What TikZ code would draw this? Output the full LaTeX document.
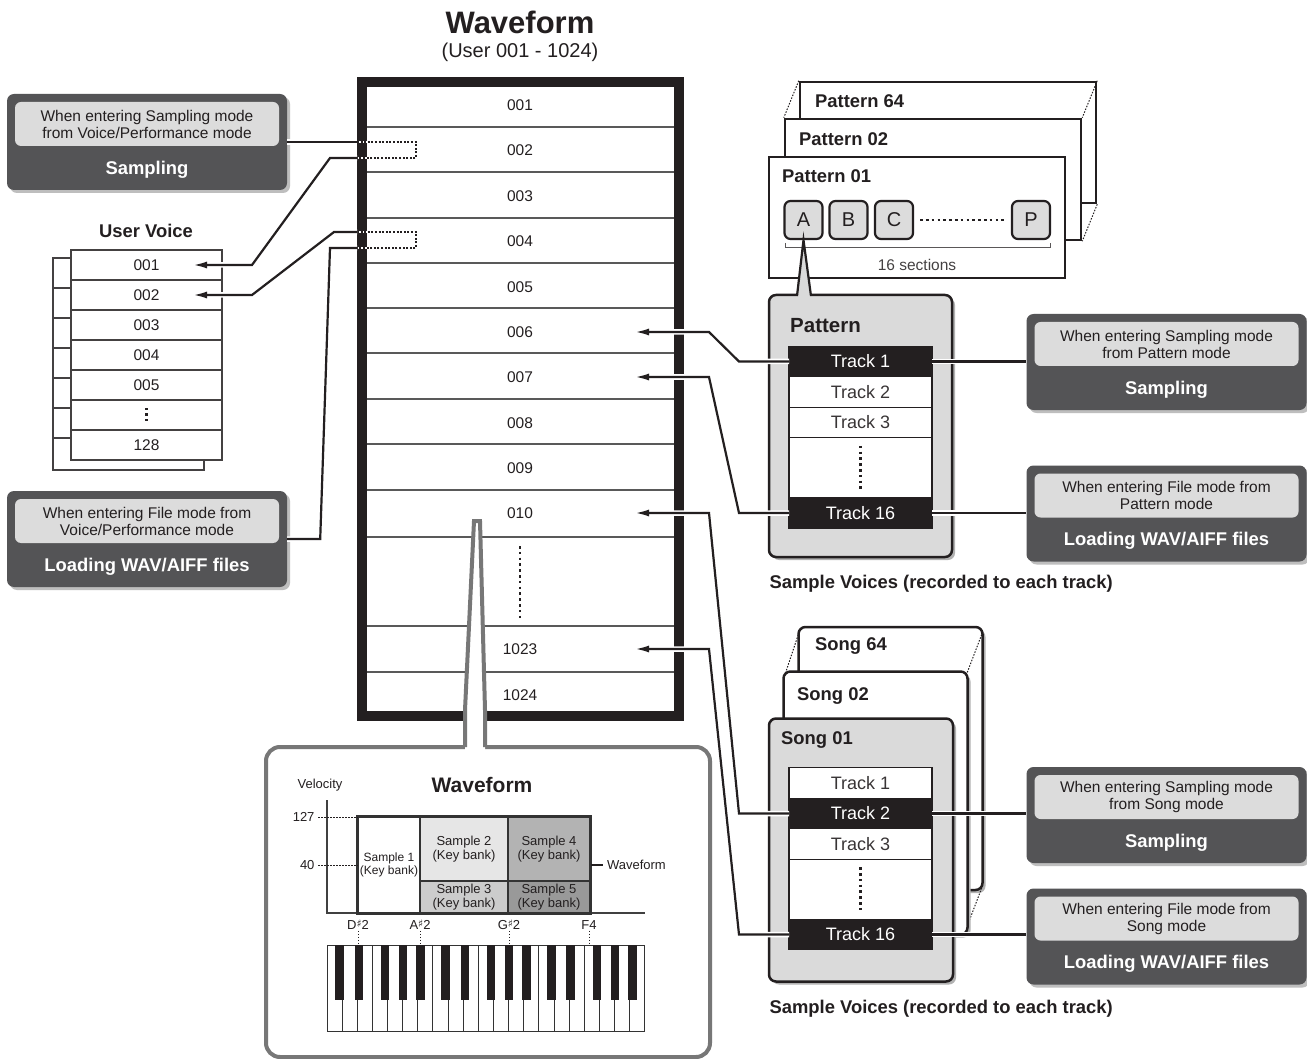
\documentclass[tikz,border=0pt]{standalone}
\usepackage{fontspec}
\setmainfont{Liberation Sans}
\newfontfamily\symfont{DejaVu Sans}
\usepackage{tikz}
\usetikzlibrary{arrows.meta,positioning,shadows}
\definecolor{boxdark}{HTML}{545456}
\definecolor{notegray}{HTML}{DCDCDC}
\definecolor{panelgray}{HTML}{DADADA}
\definecolor{textdark}{HTML}{231F20}
\definecolor{insetgray}{HTML}{777777}
\definecolor{shadowgray}{HTML}{BEBEBE}
\definecolor{cellA}{HTML}{E6E6E6}
\definecolor{cellB}{HTML}{CCCCCC}
\definecolor{cellC}{HTML}{B3B3B3}
\definecolor{cellD}{HTML}{999999}
\newcommand{\fs}[2]{\fontsize{#1}{#2}\selectfont}
\newcommand{\shp}{\raisebox{0.25ex}{\symfont\fs{10.5}{10.5}♯}}
% mode box: name, centre, note, title
\newcommand{\modebox}[4]{%
  \node[modebox] (#1) at (#2) {};
  \node[modenote] (#1n) at ([yshift=18pt]#1.center) {#3};
  \node[modename] (#1t) at ([yshift=-27.5pt]#1.center) {#4};
}
\tikzset{
  modebox/.style={fill=boxdark, rounded corners=7pt, minimum width=280pt, minimum height=96pt, inner sep=0pt,
    drop shadow={shadow xshift=3pt, shadow yshift=-3pt, fill=shadowgray, opacity=1}},
  modenote/.style={fill=notegray, rounded corners=6pt, minimum width=264pt, minimum height=44pt, inner sep=0pt,
    align=center, text=textdark, font=\fs{15.5}{17}},
  modename/.style={text=white, font=\fs{18.4}{20}\bfseries},
  heading/.style={text=textdark, font=\fs{18.4}{20}\bfseries},
  wframe/.style={draw=textdark, line width=10pt, minimum width=317pt, minimum height=634pt, inner sep=0pt},
  wrow/.style={text=textdark, font=\fs{15.5}{17}},
  rowline/.style={line width=1.2pt, black!65},
  marker/.style={line width=2pt, textdark, dash pattern=on 2pt off 1.6pt},
  conn/.style={line width=2.2pt, draw=textdark, -{Latex[length=14pt,width=7pt]}, preaction={draw=white, line width=5.5pt, -}},
  plain/.style={line width=2.2pt, draw=textdark, preaction={draw=white, line width=5.5pt}},
  dotv/.style={line width=2.6pt, textdark, dash pattern=on 2.6pt off 3.2pt},
  dotthin/.style={line width=1pt, textdark, dash pattern=on 1.5pt off 1.5pt},
  uvrow/.style={draw=textdark!85, fill=white, line width=1.2pt, minimum width=151pt, minimum height=30pt, inner sep=0pt, outer sep=0pt,
    text=textdark, font=\fs{15.5}{17}},
  pstack/.style={draw=textdark, fill=white, line width=2.5pt, minimum width=296pt, minimum height=121pt, inner sep=0pt},
  sstack/.style={draw=textdark, fill=white, line width=2.5pt, rounded corners=7pt, minimum width=184pt, minimum height=263pt, inner sep=0pt,
    drop shadow={shadow xshift=3pt, shadow yshift=-3pt, fill=black!30, opacity=1}},
  panel/.style={sstack, fill=panelgray},
  ptitle/.style={heading, anchor=west, inner sep=0pt},
  secbtn/.style={draw=textdark, fill=notegray, line width=2.2pt, rounded corners=6pt, minimum width=38pt, minimum height=38pt,
    inner sep=0pt, text=textdark, font=\fs{20}{22}},
  trk/.style={draw=textdark, line width=1.2pt, minimum width=143pt, minimum height=30.5pt, inner sep=0pt, outer sep=0pt, font=\fs{18}{20}},
  trkon/.style={trk, fill=textdark, text=white},
  trkoff/.style={trk, fill=white, text=textdark!90},
  cell/.style={draw=black!80, line width=1.4pt, inner sep=0pt, align=center, text=textdark, font=\fs{13}{13.5}},
  small/.style={text=textdark, font=\fs{13}{15}},
  keyw/.style={draw=black!80, fill=white, line width=1pt}
}
\begin{document}
\begin{tikzpicture}[x=1pt,y=-1pt]
\useasboundingbox (0,0) rectangle (1307,1059);
\fill[white] (0,0) rectangle (1307,1059);

% heading
\node[heading, font=\fs{31}{34}\bfseries] (wtitle) at (520,22) {Waveform};
\node[wrow, font=\fs{20}{22}] (wsub) at (520,52) {(User 001 - 1024)};

% waveform column
\node[wframe] (wcol) at (520.5,399) {};
\foreach \y in {127,172,218,263,308,353,399,444,490,537,626,672}
  \draw[rowline] (367,\y) -- (674,\y);
\foreach \n/\y in {001/105,002/150,003/196,004/241,005/287,006/332,007/377,008/423,009/468,010/513,1023/649,1024/695}
  \node[wrow] (w\n) at (520,\y) {\n};
\draw[dotv] (520,546) -- (520,618);

% row markers
\foreach \t/\b in {142/158,232/248}{
  \draw[white, line width=2.6pt] (356,\t) -- (368,\t) (356,\b) -- (368,\b);
  \draw[marker] (357,\t) -- (416,\t) -- (416,\b) -- (357,\b);
}
\coordinate (m2t) at (357,142);
\coordinate (m2b) at (357,158);
\coordinate (m4t) at (357,232);
\coordinate (m4b) at (357,248);

% mode boxes
\modebox{sampL}{147,142}{When entering Sampling mode\\from Voice/Performance mode}{Sampling}
\modebox{loadL}{147,539}{When entering File mode from\\Voice/Performance mode}{Loading WAV/AIFF files}
\modebox{sampP}{1166.5,362}{When entering Sampling mode\\from Pattern mode}{Sampling}
\modebox{loadP}{1166.5,513.5}{When entering File mode from\\Pattern mode}{Loading WAV/AIFF files}
\modebox{sampS}{1166.5,815}{When entering Sampling mode\\from Song mode}{Sampling}
\modebox{loadS}{1166.5,936.5}{When entering File mode from\\Song mode}{Loading WAV/AIFF files}

% user voice
\node[heading] (uvtitle) at (146,231) {User Voice};
\draw[line width=1.2pt, textdark!85, fill=white] (53,258) rectangle (204,470);
\foreach \y in {288,318,...,438}
  \draw[line width=1.2pt, textdark!85] (53,\y) -- (71,\y);
\node[uvrow] (uv1) at (146.5,265) {001};
\node[uvrow, below=0pt of uv1] (uv2) {002};
\node[uvrow, below=0pt of uv2] (uv3) {003};
\node[uvrow, below=0pt of uv3] (uv4) {004};
\node[uvrow, below=0pt of uv4] (uv5) {005};
\node[uvrow, below=0pt of uv5] (uv6) {};
\node[uvrow, below=0pt of uv6] (uv7) {128};
\draw[dotv, line width=2.4pt, dash pattern=on 2.4pt off 3pt] ([yshift=7pt]uv6.center) -- ([yshift=-7pt]uv6.center);

% pattern stack
\node[pstack] (pat64) at (948,142.5) {};
\draw[dotthin] (pat64.north west) -- ++(-15,37);
\draw[dotthin] (pat64.north east) -- ++(-15,37);
\draw[dotthin] (pat64.south east) -- ++(-15,37);
\node[pstack] (pat02) at (933,179.5) {};
\node[pstack] (pat01) at (917,217.5) {};
\node[ptitle] (pat64t) at (815,101) {Pattern 64};
\node[ptitle] (pat02t) at (799,139) {Pattern 02};
\node[ptitle] (pat01t) at (782,176) {Pattern 01};
\draw[line width=1pt, textdark!75] (785,243) -- (785,248) -- (1050,248) -- (1050,243);
\node[wrow, text=textdark!85] (secs) at (917,265) {16 sections};
\foreach \l/\x in {A/803.5,B/848.5,C/894,P/1031}
  \node[secbtn] (btn\l) at (\x,220) {\l};
\draw[dotv] ([xshift=6pt]btnC.east) -- ([xshift=-6pt]btnP.west);

% pattern panel
\node[panel, minimum width=183pt, minimum height=262pt] (patbox) at (860.5,426) {};
\fill[panelgray] (797,299) -- (btnA.south) -- (811,299) -- cycle;
\draw[line width=2.2pt, textdark] (797,296) -- (btnA.south) -- (811,296);
\node[ptitle, font=\fs{20.5}{22}\bfseries] (patname) at (790,326) {Pattern};
\node[trkon] (pt1) at (860.5,361.5) {Track 1};
\node[trkoff, below=0pt of pt1] (pt2) {Track 2};
\node[trkoff, below=0pt of pt2] (pt3) {Track 3};
\node[trkoff, below=0pt of pt3, minimum height=60pt] (ptd) {};
\node[trkon, below=0pt of ptd] (pt16) {Track 16};
\draw[dotv] ([yshift=22pt]ptd.center) -- ([yshift=-22pt]ptd.center);
\node[heading, anchor=west] (svp) at (766,584) {Sample Voices (recorded to each track)};

% song stack
\node[sstack] (s64) at (890.5,758.5) {};
\draw[dotthin] ([shift={(1pt,-9pt)}]s64.north west) -- ++(-14,42);
\draw[dotthin] ([shift={(-1pt,-6pt)}]s64.north east) -- ++(-16,42);
\draw[dotthin] ([shift={(-1pt,6pt)}]s64.south east) -- ++(-16,42);
\node[sstack] (s02) at (875.5,803) {};
\node[panel] (s01) at (861,850) {};
\node[ptitle] (s64t) at (815,646) {Song 64};
\node[ptitle] (s02t) at (797,696) {Song 02};
\node[ptitle] (s01t) at (781,740) {Song 01};
\node[trkoff] (st1) at (860.5,783) {Track 1};
\node[trkon, below=0pt of st1] (st2) {Track 2};
\node[trkoff, below=0pt of st2] (st3) {Track 3};
\node[trkoff, below=0pt of st3, minimum height=60pt] (std) {};
\node[trkon, below=0pt of std] (st16) {Track 16};
\draw[dotv] ([yshift=22pt]std.center) -- ([yshift=-22pt]std.center);
\node[heading, anchor=west] (svs) at (766,1009) {Sample Voices (recorded to each track)};

% inset
\node[draw=insetgray, line width=4pt, rounded corners=14pt, minimum width=444pt, minimum height=310pt, inner sep=0pt] (inset) at (488,902) {};
\fill[white] (465,751) -- (465,710) -- (474,521) -- (480,521) -- (485,710) -- (485,751) -- cycle;
\draw[insetgray, line width=4pt] (465,747) -- (465,710) -- (474,521) -- (480,521) -- (485,710) -- (485,747);
\node[small] (vel) at (320,785) {Velocity};
\node[heading, font=\fs{21}{23}\bfseries] (inttl) at (482,785) {Waveform};
\draw[line width=1.3pt, black!75] (327,800) -- (327,913) -- (645,913);
\node[cell, fill=white, minimum width=62pt, minimum height=96pt, font=\fs{12}{13}] (smp1) at (389,865) {Sample 1\\(Key bank)};
\node[cell, fill=cellA, minimum width=88pt, minimum height=64pt] (smp2) at (464,849) {Sample 2\\(Key bank)};
\node[cell, fill=cellB, minimum width=88pt, minimum height=32pt] (smp3) at (464,897) {Sample 3\\(Key bank)};
\node[cell, fill=cellC, minimum width=82pt, minimum height=64pt] (smp4) at (549,849) {Sample 4\\(Key bank)};
\node[cell, fill=cellD, minimum width=82pt, minimum height=32pt] (smp5) at (549,897) {Sample 5\\(Key bank)};
\draw[line width=2.4pt, black!80] (smp1.north west) rectangle (smp5.south east);
\node[small, anchor=east] (v127) at (318,817) {127};
\node[small, anchor=east] (v40) at (318,865) {40};
\draw[dotthin, line width=0.8pt] (v127.east) -- (v127.east -| smp1.west);
\draw[dotthin, line width=0.8pt] (v40.east) -- (v40.east -| smp1.west);
\draw[line width=2pt, textdark] ([yshift=-16pt]smp4.east) -- ++(12,0) node[small, anchor=west] (wfl) {Waveform};

% keyboard
\coordinate (kbd) at (327,945);
\foreach \i in {0,...,20}
  \draw[keyw] ({327+\i*15.14},945) rectangle ++(15.14,86);
\foreach \i/\o in {1/-2.5,2/1.5,4/-2.5,5/0.5,6/2.5,8/-2.5,9/1.5,11/-2.5,12/0.5,13/2.5,15/-2.5,16/1.5,18/-2.5,19/0.5,20/2.5}
  \fill[textdark] ({327+\i*15.14+\o-4.25},945) rectangle ++(8.5,55);
\foreach \l/\x [count=\k] in {D\shp2/358,A\shp2/420,G\shp2/509,F4/589}{
  \node[small, inner sep=1pt] (key\k) at (\x,925) {\l};
  \draw[dotthin, line width=0.8pt] (key\k.south) -- (key\k.south |- kbd);
}

% connectors
\draw[plain] (sampL.east) -- (m2t);
\draw[conn] (m2b) -- ++(-27,0) -- ([xshift=30pt]uv1.east) -- ([xshift=-29pt]uv1.east);
\draw[conn] (m4t) -- ++(-23,0) -- ([xshift=30pt]uv2.east) -- ([xshift=-29pt]uv2.east);
\draw[plain] (m4b) -- ++(-27,0) -- ([xshift=33pt]loadL.east) -- (loadL.east);
\draw[conn] (pt1.west) -- ++(-50,0) -- ([xshift=189pt]w006.center) -- ([xshift=115pt]w006.center);
\draw[conn] (pt16.west) -- ++(-50,0) -- ([xshift=189pt]w007.center) -- ([xshift=115pt]w007.center);
\draw[conn] (st2.west) -- ++(-50,0) -- ([xshift=189pt]w010.center) -- ([xshift=115pt]w010.center);
\draw[conn] (st16.west) -- ++(-50,0) -- ([xshift=189pt]w1023.center) -- ([xshift=115pt]w1023.center);
\draw[plain] (pt1.east) -- (pt1.east -| sampP.west);
\draw[plain] (pt16.east) -- (pt16.east -| loadP.west);
\draw[plain] (st2.east) -- (st2.east -| sampS.west);
\draw[plain] (st16.east) -- (st16.east -| loadS.west);
\end{tikzpicture}
\end{document}
